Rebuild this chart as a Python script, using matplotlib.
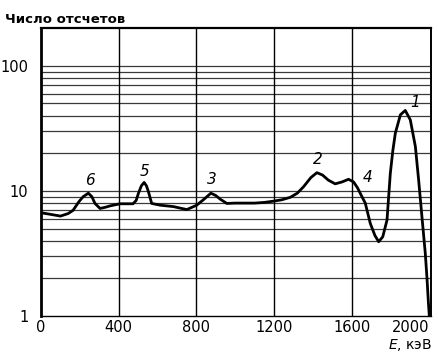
import matplotlib
matplotlib.use("Agg")
import matplotlib.pyplot as plt
import numpy as np

# Energy (keV) and counts
energy = [0, 50, 100, 140, 165, 195, 217, 244, 262, 278, 304, 330, 356, 407, 474,
          490, 502, 517, 531, 543, 553, 570, 613, 682, 751, 802, 840, 875, 900,
          923, 957, 1000, 1050, 1100, 1150, 1200, 1240, 1284, 1320, 1352, 1390,
          1421, 1450, 1480, 1515, 1550, 1584, 1610, 1630, 1653, 1670, 1696, 1720,
          1739, 1760, 1782, 1799, 1812, 1825, 1851, 1876, 1902, 1928, 1945, 1962,
          1979, 1988, 1995, 2000]
counts = [6.7, 6.5, 6.3, 6.6, 7.0, 8.2, 9.0, 9.6, 9.0, 7.95, 7.25, 7.4, 7.6, 7.9, 7.9,
          8.4, 9.6, 11.0, 11.7, 11.0, 9.9, 7.95, 7.7, 7.5, 7.1, 7.7, 8.6, 9.6, 9.2,
          8.6, 7.95, 8.0, 8.0, 8.0, 8.1, 8.3, 8.5, 8.9, 9.6, 10.8, 12.8,
          14.0, 13.4, 12.2, 11.4, 11.8, 12.4, 11.8, 10.6, 9.0, 8.0, 5.5, 4.4,
          3.93, 4.3, 5.85, 13.8, 21.0, 29.0, 40.6, 44.0, 37.0, 22.7, 12.2, 6.2,
          3.2, 2.0, 1.3, 1.0]

# Peak numbers and where they are written
peak_labels = ["6", "5", "3", "2", "4", "1"]
peak_label_e = [252, 532, 880, 1428, 1680, 1928]
peak_label_y = [12.1, 14.3, 12.4, 17.7, 12.9, 50.8]

x_ticks = [0, 400, 800, 1200, 1600, 2000]
y_ticks = [1, 10, 100]
y_tick_labels = ["1", "10", "100"]

fig = plt.figure(figsize=(4.39, 3.56), dpi=100)
ax = fig.add_axes([0.0934, 0.112, 0.889, 0.809])

ax.set_yscale("log")
ax.set_xlim(0, 2010)
ax.set_ylim(1, 200)

# horizontal grid: 2..10 per decade up to 100
for dec in [1, 10]:
    for m in range(2, 11):
        ax.axhline(m * dec, color="#3a3a3a", lw=0.9, zorder=1)
for xv in x_ticks[1:-1]:
    ax.axvline(xv, color="black", lw=1.0, zorder=1)

ax.plot(energy, counts, color="black", lw=2.0, zorder=3)

for lab, ex, ey in zip(peak_labels, peak_label_e, peak_label_y):
    ax.text(ex, ey, lab, ha="center", va="center", fontsize=11,
            style="italic", zorder=4)

ax.set_xticks(x_ticks)
ax.set_xticklabels([str(v) for v in x_ticks], fontsize=10.5)
ax.get_xticklabels()[-1].set_ha("right")
ax.set_yticks(y_ticks)
ax.set_yticklabels(y_tick_labels, fontsize=10.5)
ax.yaxis.set_minor_locator(matplotlib.ticker.NullLocator())
ax.tick_params(axis="both", length=0)
ax.tick_params(axis="y", pad=9)
ax.tick_params(axis="x", pad=3)

ax.spines["left"].set_linewidth(2.0)
ax.spines["top"].set_linewidth(1.6)
ax.spines["right"].set_linewidth(1.4)
ax.spines["bottom"].set_linewidth(1.0)

fig.text(0.012, 0.945, "Число отсчетов", fontsize=9.5, fontweight="bold",
         ha="left", va="center")
fig.text(0.985, 0.03, "$\\mathit{E}$, кэВ", fontsize=10, ha="right", va="center")

fig.savefig("out.png", dpi=100)
